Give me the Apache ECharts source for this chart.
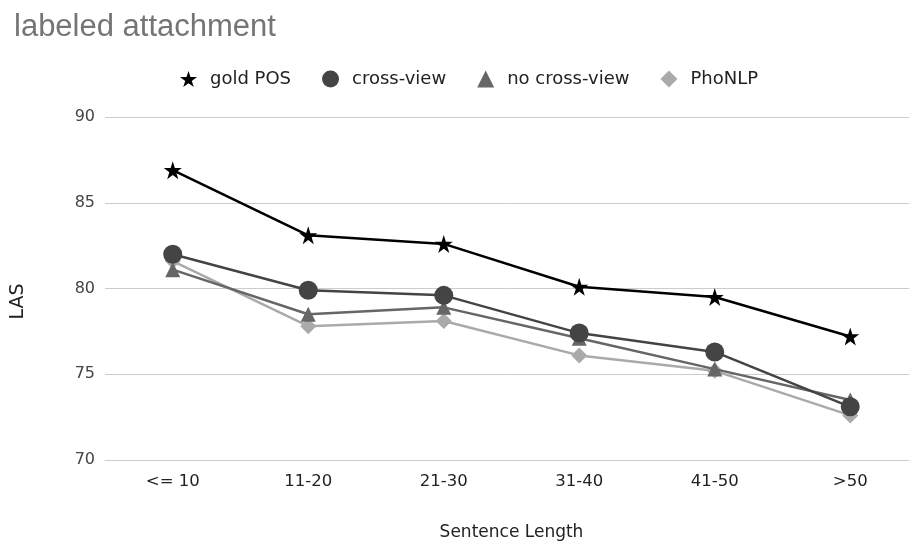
<!DOCTYPE html>
<html>
<head>
<meta charset="utf-8">
<script src="https://cdn.jsdelivr.net/npm/echarts@6/dist/echarts.min.js"></script>
<style>
  html, body { margin: 0; padding: 0; background: #fff; }
  #chart { width: 909px; height: 542px; }
</style>
</head>
<body>
<div id="chart"></div>
<script>
// 数据
var categories = ['<= 10', '11-20', '21-30', '31-40', '41-50', '>50'];
var goldPOS = [86.9, 83.1, 82.6, 80.1, 79.5, 77.2];
var crossView = [82.0, 79.9, 79.6, 77.4, 76.3, 73.1];
var noCrossView = [81.1, 78.5, 78.9, 77.1, 75.3, 73.5];
var phoNLP = [81.6, 77.8, 78.1, 76.1, 75.2, 72.6];
var yTicks = [70, 75, 80, 85, 90];

var starPath = 'path://M50,0 L61.8,36.2 L100,36.2 L69.1,58.6 L80.9,95.1 L50,72.7 L19.1,95.1 L30.9,58.6 L0,36.2 L38.2,36.2 Z';
var font = '"DejaVu Sans", sans-serif';

var myChart = echarts.init(document.getElementById('chart'));
var option = {
  backgroundColor: '#fff',
  animation: false,
  textStyle: { fontFamily: font },
  title: {
    text: 'labeled attachment',
    left: 9,
    top: 7,
    textStyle: { color: '#757575', fontSize: 31, fontWeight: 'normal', fontFamily: '"Liberation Sans", Arial, sans-serif' }
  },
  legend: {
    top: 65,
    left: 175,
    itemGap: 31,
    itemWidth: 17,
    itemHeight: 17,
    textStyle: { color: '#222', fontSize: 18, padding: [0, 0, 0, 8] },
    data: [
      { name: 'gold POS', icon: starPath },
      { name: 'cross-view', icon: 'circle' },
      { name: 'no cross-view', icon: 'triangle' },
      { name: 'PhoNLP', icon: 'diamond' }
    ]
  },
  grid: { left: 105, top: 117, width: 813, height: 343, outerBoundsMode: 'none' },
  xAxis: {
    type: 'category',
    data: categories,
    boundaryGap: true,
    name: 'Sentence Length',
    nameLocation: 'middle',
    nameGap: 64,
    nameTextStyle: { color: '#222', fontSize: 17 },
    axisLine: { lineStyle: { color: '#ccc' } },
    axisTick: { show: false },
    axisLabel: { color: '#222', fontSize: 16.5, margin: 13 }
  },
  yAxis: {
    type: 'value',
    min: yTicks[0],
    max: yTicks[yTicks.length - 1],
    interval: 5,
    name: 'LAS',
    nameLocation: 'middle',
    nameGap: 77,
    nameTextStyle: { color: '#222', fontSize: 19, padding: [0, 26, 0, 0] },
    axisLine: { show: false },
    axisTick: { show: false },
    axisLabel: { color: '#444', fontSize: 16, margin: 10 },
    splitLine: { lineStyle: { color: '#ccc', width: 1 } }
  },
  series: [
    {
      name: 'gold POS',
      type: 'line',
      data: goldPOS,
      symbol: starPath,
      symbolSize: 18,
      z: 5,
      lineStyle: { color: '#000', width: 2.5 },
      itemStyle: { color: '#000' }
    },
    {
      name: 'cross-view',
      type: 'line',
      data: crossView,
      symbol: 'circle',
      symbolSize: 19,
      z: 4,
      lineStyle: { color: '#444', width: 2.5 },
      itemStyle: { color: '#444' }
    },
    {
      name: 'no cross-view',
      type: 'line',
      data: noCrossView,
      symbol: 'triangle',
      symbolSize: 15,
      z: 3,
      lineStyle: { color: '#666', width: 2.5 },
      itemStyle: { color: '#666' }
    },
    {
      name: 'PhoNLP',
      type: 'line',
      data: phoNLP,
      symbol: 'diamond',
      symbolSize: 16,
      z: 2,
      lineStyle: { color: '#aaa', width: 2.5 },
      itemStyle: { color: '#aaa' }
    }
  ]
};
myChart.setOption(option, true);
window.addEventListener('resize', function () {
  myChart.resize();
});
</script>
</body>
</html>
